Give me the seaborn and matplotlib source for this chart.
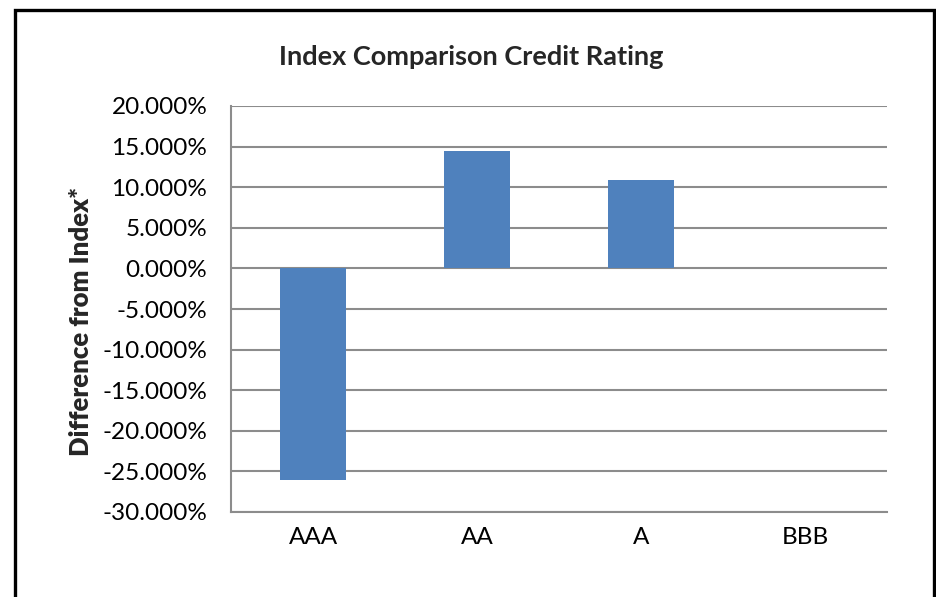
import matplotlib
matplotlib.use("Agg")
import matplotlib.pyplot as plt
import seaborn as sns
import pandas as pd
from matplotlib.patches import Rectangle
from matplotlib.ticker import FuncFormatter

categories = ["AAA", "AA", "A", "BBB"]
values = [-26.0, 14.5, 10.85, 0.0]
yticks = [-30, -25, -20, -15, -10, -5, 0, 5, 10, 15, 20]

df = pd.DataFrame({"rating": categories, "diff": values})

sns.set_theme(style="white")
plt.rcParams["font.family"] = ["Lato", "DejaVu Sans"]

fig = plt.figure(figsize=(9.36, 5.97), dpi=100)
ax = fig.add_axes([231/936, 1 - 512/597, (887-231)/936, (512-106)/597])

sns.barplot(data=df, x="rating", y="diff", color="#4F81BD", saturation=1,
            width=0.40, edgecolor="none", linewidth=0, ax=ax, zorder=3)

ax.set_ylim(-30, 20)
ax.set_yticks(yticks)
ax.yaxis.set_major_formatter(FuncFormatter(lambda v, p: f"{v:.3f}%"))
ax.grid(axis="y", color="#8c8c8c", linewidth=1.5, zorder=0)
ax.set_axisbelow(True)
for s in ["top", "right"]:
    ax.spines[s].set_visible(False)
for s in ["left", "bottom"]:
    ax.spines[s].set_color("#8c8c8c")
    ax.spines[s].set_linewidth(1.5)
ax.tick_params(axis="both", length=0, labelsize=17.5, colors="black")
ax.tick_params(axis="y", pad=17)
ax.tick_params(axis="x", pad=11)
ax.set_xlabel("")
ax.set_ylabel("Difference from Index*", fontsize=18.5, fontweight="heavy")
ax.yaxis.set_label_coords(-0.21, 0.47)
fig.text(471/936, 1 - 57/597, "Index Comparison Credit Rating", ha="center", va="center",
         fontsize=19.5, fontweight="bold")

fig.patches.append(Rectangle((14.5/936, -0.1), (933.5-14.5)/936, 1.1 - 9.5/597,
                             transform=fig.transFigure, fill=False,
                             edgecolor="black", linewidth=2.4))

fig.savefig("out.png", dpi=100)
